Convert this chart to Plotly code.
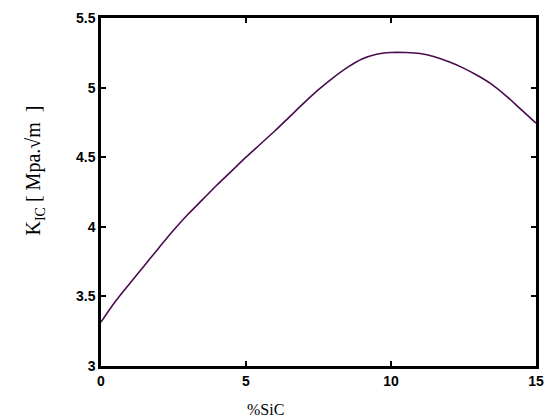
import plotly.graph_objects as go

sic_pct = [0, 0.5, 1, 1.5, 2, 2.5, 3, 3.5, 4, 4.5, 5, 5.5, 6, 6.5, 7, 7.5, 8, 8.5, 9, 9.5,
           10, 10.5, 11, 11.5, 12, 12.5, 13, 13.5, 14, 14.5, 15]
k1c = [3.315, 3.465, 3.595, 3.722, 3.85, 3.975, 4.09, 4.195, 4.30, 4.40, 4.50, 4.595, 4.69, 4.79,
       4.89, 4.985, 5.07, 5.145, 5.205, 5.24, 5.252, 5.252, 5.245, 5.222, 5.185, 5.14, 5.085,
       5.02, 4.935, 4.84, 4.745]

x_range = [0, 15]
y_range = [3, 5.5]
x_ticks = [0, 5, 10, 15]
x_tick_labels = ["0", "5", "10", "15"]
y_ticks = [3, 3.5, 4, 4.5, 5, 5.5]
y_tick_labels = ["3", "3.5", "4", "4.5", "5", "5.5"]

fig = go.Figure()
fig.add_trace(go.Scatter(x=sic_pct, y=k1c, mode="lines",
                         line=dict(color="#4B0B50", width=1.6, shape="spline"),
                         showlegend=False))

tickfont = dict(family="Liberation Sans", size=14, color="black", weight="bold")
frame_color = "black"

fig.update_layout(
    width=552, height=419, margin=dict(l=101, r=8, t=18, b=53),
    plot_bgcolor="white", paper_bgcolor="white",
    xaxis=dict(range=x_range, tickmode="array", tickvals=x_ticks, ticktext=x_tick_labels,
               showline=True, linewidth=2.5, linecolor=frame_color, mirror="allticks",
               ticks="inside", ticklen=5, tickwidth=1.5, tickcolor=frame_color,
               showgrid=False, zeroline=False, tickfont=tickfont),
    yaxis=dict(range=y_range, tickmode="array", tickvals=y_ticks, ticktext=y_tick_labels,
               showline=True, linewidth=2.5, linecolor=frame_color, mirror="allticks",
               ticks="inside", ticklen=5, tickwidth=1.5, tickcolor=frame_color,
               showgrid=False, zeroline=False, tickfont=tickfont),
)

fig.add_annotation(text="%SiC", xref="paper", yref="paper", x=0.379, y=-0.125,
                   xanchor="center", yanchor="middle", showarrow=False,
                   font=dict(family="Liberation Serif", size=16, color="black"))
fig.add_annotation(text="K<sub>IC</sub> [ Mpa.√m  ]", xref="paper", yref="paper", x=-0.153, y=0.563,
                   xanchor="center", yanchor="middle", textangle=-90, showarrow=False,
                   font=dict(family="Liberation Serif", size=20, color="black"))

fig.write_html("out.html")
